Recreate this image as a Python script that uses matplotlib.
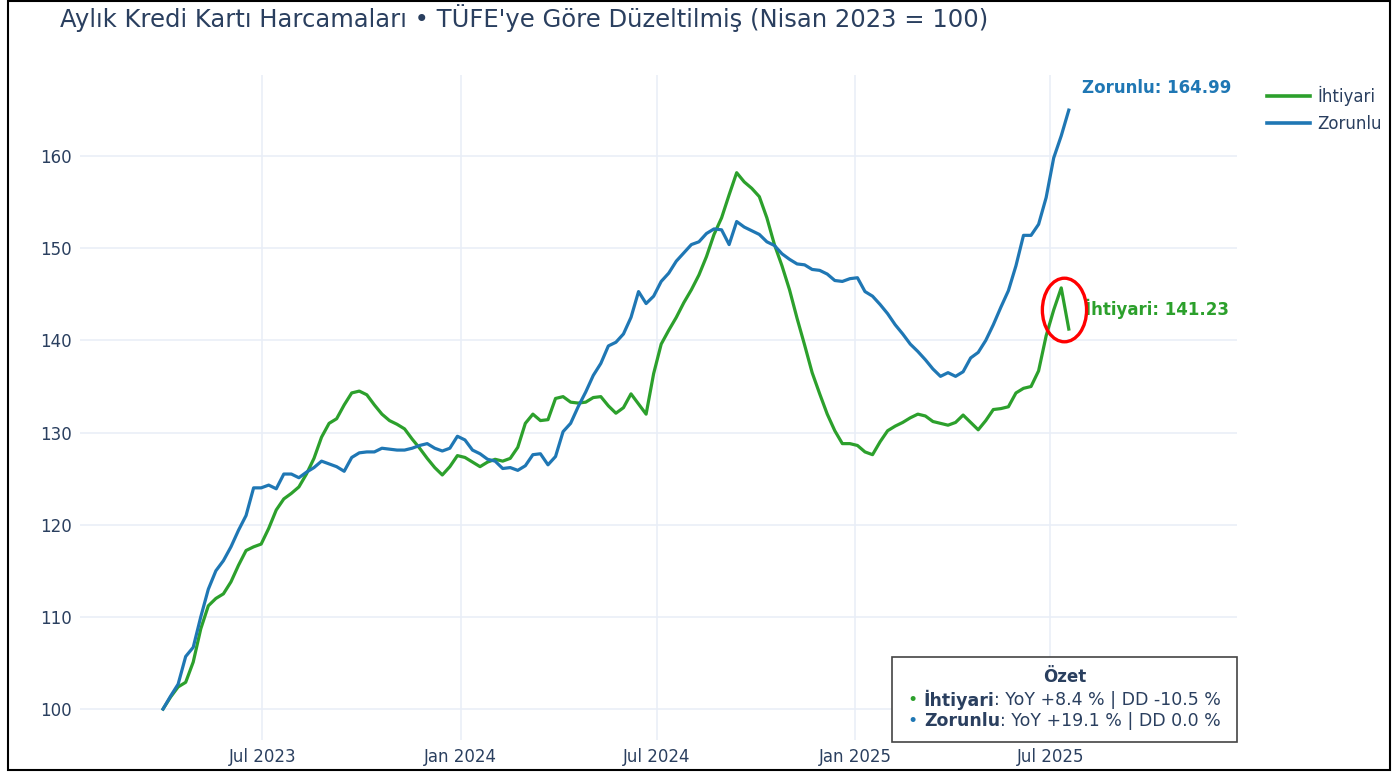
import matplotlib
matplotlib.use("Agg")
import matplotlib.pyplot as plt
import matplotlib.dates as mdates
from matplotlib.patches import Ellipse, Rectangle
from matplotlib.lines import Line2D
import pandas as pd

#---------------Data--------------------------------------------------

start_date = "2023-03-31"   # weekly points, Nisan 2023 = 100

ihtiyari = [100.0, 101.3, 102.4, 102.9, 105.1, 108.7, 111.2, 112.0, 112.5, 113.8,
            115.6, 117.2, 117.6, 117.9, 119.6, 121.6, 122.8, 123.4, 124.1, 125.5,
            127.2, 129.5, 131.0, 131.5, 133.0, 134.3, 134.5, 134.1, 133.0, 132.0,
            131.3, 130.9, 130.4, 129.3, 128.3, 127.2, 126.2, 125.4, 126.3, 127.5,
            127.3, 126.8, 126.3, 126.8, 127.1, 126.9, 127.2, 128.4, 131.0, 132.0,
            131.3, 131.4, 133.7, 133.9, 133.3, 133.2, 133.3, 133.8, 133.9, 132.9,
            132.1, 132.7, 134.2, 133.1, 132.0, 136.4, 139.6, 141.1, 142.5, 144.1,
            145.5, 147.1, 149.1, 151.5, 153.3, 155.8, 158.2, 157.2, 156.5, 155.6,
            153.3, 150.4, 148.1, 145.5, 142.4, 139.5, 136.5, 134.2, 132.0, 130.2,
            128.8, 128.8, 128.6, 127.9, 127.6, 129.0, 130.2, 130.7, 131.1, 131.6,
            132.0, 131.8, 131.2, 131.0, 130.8, 131.1, 131.9, 131.1, 130.3, 131.3,
            132.5, 132.6, 132.8, 134.3, 134.8, 135.0, 136.7, 140.5, 143.3, 145.7,
            141.23]

zorunlu = [100.0, 101.4, 102.7, 105.7, 106.7, 110.0, 113.0, 115.0, 116.1, 117.6,
           119.4, 121.0, 124.0, 124.0, 124.3, 123.9, 125.5, 125.5, 125.1, 125.7,
           126.2, 126.9, 126.6, 126.3, 125.8, 127.3, 127.8, 127.9, 127.9, 128.3,
           128.2, 128.1, 128.1, 128.3, 128.6, 128.8, 128.3, 128.0, 128.3, 129.6,
           129.2, 128.1, 127.7, 127.1, 126.9, 126.1, 126.2, 125.9, 126.4, 127.6,
           127.7, 126.5, 127.4, 130.1, 131.0, 132.8, 134.4, 136.2, 137.5, 139.4,
           139.8, 140.7, 142.5, 145.3, 144.0, 144.8, 146.4, 147.3, 148.6, 149.5,
           150.4, 150.7, 151.6, 152.1, 152.0, 150.4, 152.9, 152.3, 151.9, 151.5,
           150.7, 150.3, 149.4, 148.8, 148.3, 148.2, 147.7, 147.6, 147.2, 146.5,
           146.4, 146.7, 146.8, 145.3, 144.8, 143.9, 142.9, 141.7, 140.7, 139.6,
           138.8, 137.9, 136.9, 136.1, 136.5, 136.1, 136.6, 138.1, 138.7, 140.0,
           141.7, 143.6, 145.4, 148.1, 151.4, 151.4, 152.6, 155.5, 159.8, 162.2,
           164.99]

series_names = ["İhtiyari", "Zorunlu"]
yoy = [8.4, 19.1]
dd = [-10.5, 0.0]

dates = pd.date_range(start_date, periods=len(ihtiyari), freq="7D")

#---------------Style--------------------------------------------------

W, H = 1394, 772
green = "#2ca02c"
blue = "#1f77b4"
txt = "#2a3f5f"
grid = "#e8eef7"
plt.rcParams["font.family"] = ["DejaVu Sans"]

fig = plt.figure(figsize=(W / 100, H / 100), dpi=100)
ax = fig.add_axes([80 / W, 32 / H, 1157 / W, 665 / H])

ax.plot(dates, ihtiyari, color=green, lw=2.3, label=series_names[0], zorder=3)
ax.plot(dates, zorunlu, color=blue, lw=2.3, label=series_names[1], zorder=3)

ax.set_xlim(pd.Timestamp("2023-01-13"), pd.Timestamp("2025-12-21"))
ax.set_ylim(96.64, 168.8)
ax.set_yticks(range(100, 161, 10))
ax.xaxis.set_major_locator(mdates.MonthLocator(bymonth=[1, 7]))
ax.xaxis.set_major_formatter(mdates.DateFormatter("%b %Y"))
ax.grid(True, color=grid, lw=1.1)
ax.set_axisbelow(True)
for s in ax.spines.values():
    s.set_visible(False)
ax.tick_params(length=0, labelsize=12, colors=txt, pad=6)

#---------------Title & legend-----------------------------------------

fig.text(60 / W, 1 - 18 / H, "Aylık Kredi Kartı Harcamaları • TÜFE'ye Göre Düzeltilmiş (Nisan 2023 = 100)",
         fontsize=17.5, color=txt, va="center", ha="left")

handles = [Line2D([], [], color=green, lw=2.6), Line2D([], [], color=blue, lw=2.6)]
fig.legend(handles, series_names, loc="upper left", bbox_to_anchor=(1267 / W, 1 - 86 / H),
           frameon=False, fontsize=12, handlelength=2.55, handletextpad=0.45,
           labelspacing=0.55, labelcolor=txt, borderpad=0, borderaxespad=0)

#---------------End-point labels and marker ellipse---------------------

ax.annotate(f"{series_names[1]}: {zorunlu[-1]:.2f}", xy=(dates[-1], zorunlu[-1]),
            xytext=(88, 22), textcoords="offset pixels", ha="center", va="center",
            fontsize=12, fontweight="bold", color=blue)
ax.annotate(f"{series_names[0]}: {ihtiyari[-1]:.2f}", xy=(dates[-1], ihtiyari[-1]),
            xytext=(88, 20), textcoords="offset pixels", ha="center", va="center",
            fontsize=12, fontweight="bold", color=green)

peak_day = mdates.date2num(dates[-2]) + 3
ax.add_patch(Ellipse((peak_day, 143.3), width=41, height=6.9, fill=False,
                     edgecolor="red", lw=2.4, zorder=4))

#---------------Summary box ("Özet")-----------------------------------

box = Rectangle((892 / W, 1 - 742 / H), 345 / W, 85 / H, transform=fig.transFigure,
                facecolor="white", edgecolor="#444444", lw=1.2, zorder=5)
fig.patches.append(box)
fig.text(1064.5 / W, 1 - 677 / H, "Özet", fontsize=12, fontweight="bold", color=txt,
         ha="center", va="center", zorder=6)

renderer = fig.canvas.get_renderer()


def rich_line(pieces, y_px, cx_px):
    objs = []
    for s, col, wt, fs in pieces:
        objs.append(fig.text(0, 1 - y_px / H, s, color=col, fontweight=wt, fontsize=fs,
                             va="center", ha="left", zorder=6))
    widths = [o.get_window_extent(renderer).width for o in objs]
    x = cx_px - sum(widths) / 2
    for o, w in zip(objs, widths):
        o.set_x(x / W)
        x += w


colors = [green, blue]
for i, name in enumerate(series_names):
    rich_line([("• ", colors[i], "normal", 12.5),
               (name, txt, "bold", 12.5),
               (f": YoY {yoy[i]:+.1f} % | DD {dd[i]:.1f} %", txt, "normal", 12.5)],
              700 + 21 * i, 1064.5)

#---------------Outer frame--------------------------------------------

frame = Rectangle((8 / W, 2 / H), 1382 / W, 769 / H, transform=fig.transFigure,
                  fill=False, edgecolor="black", lw=1.5, zorder=10)
fig.patches.append(frame)

fig.savefig("out.png", dpi=100, facecolor="white")
